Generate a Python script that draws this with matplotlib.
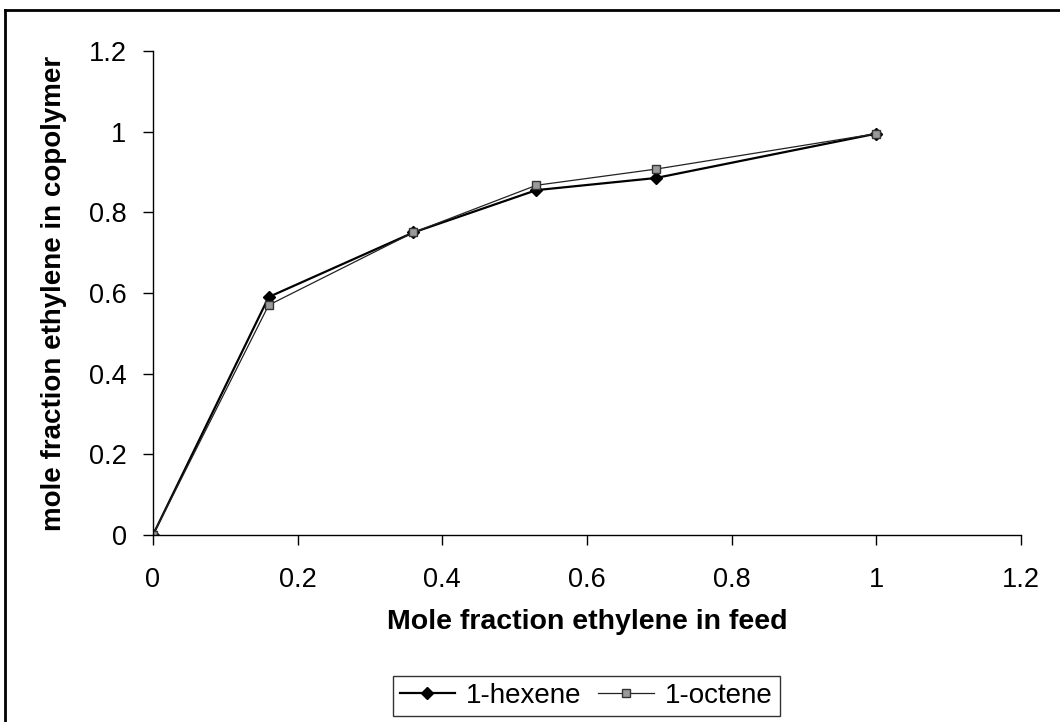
import numpy as np
import matplotlib
matplotlib.use("Agg")
import matplotlib.pyplot as plt
from matplotlib.lines import Line2D

#Data
feed = [0.0, 0.16, 0.36, 0.53, 0.695, 1.0]
hexene = [0.0, 0.59, 0.75, 0.855, 0.885, 0.995]
octene = [0.0, 0.57, 0.75, 0.867, 0.907, 0.995]
ticks = [0, 0.2, 0.4, 0.6, 0.8, 1, 1.2]
tick_labels = ["0", "0.2", "0.4", "0.6", "0.8", "1", "1.2"]

plt.rcParams["font.family"] = ["Liberation Sans", "DejaVu Sans"]

#Figure
fig = plt.figure(figsize=(10.6, 7.22), dpi=100)
ax = fig.add_axes([0.1443, 0.259, 0.8189, 0.6704])

ax.plot(feed, hexene, color="black", lw=1.6, marker="D", markersize=6,
        markerfacecolor="black", markeredgecolor="black", label="1-hexene")
ax.plot(feed, octene, color="#222222", lw=0.9, marker="s", markersize=6,
        markerfacecolor="#9a9a9a", markeredgecolor="#333333", label="1-octene")

ax.set_xlim(0, 1.2)
ax.set_ylim(0, 1.2)
ax.set_xticks(ticks)
ax.set_xticklabels(tick_labels)
ax.set_yticks(ticks)
ax.set_yticklabels(tick_labels)

for s in ["top", "right"]:
    ax.spines[s].set_visible(False)
for s in ["left", "bottom"]:
    ax.spines[s].set_linewidth(1.0)

ax.tick_params(axis="x", direction="out", length=7, width=1, labelsize=19.5, pad=16)
ax.tick_params(axis="y", direction="out", length=7, width=1, labelsize=19.5, pad=12)

ax.set_xlabel("Mole fraction ethylene in feed", fontsize=20.5, fontweight="bold")
ax.set_ylabel("mole fraction ethylene in copolymer", fontsize=20, fontweight="bold")
ax.xaxis.set_label_coords(0.5, -0.153)
ax.yaxis.set_label_coords(-0.099, 0.5)

#Legend
leg = fig.legend(loc="center", bbox_to_anchor=(0.553, 0.036), ncol=2,
                 fontsize=20, frameon=True, fancybox=False, edgecolor="black",
                 handlelength=2.0, handletextpad=0.4, columnspacing=0.6,
                 borderpad=0.25)
leg.get_frame().set_linewidth(1.0)

#Outer frame (left and top only)
fx = 5 / 1060
fy = 1 - 10 / 722
fig.add_artist(Line2D([fx, fx], [0, fy], transform=fig.transFigure, color="black", lw=2))
fig.add_artist(Line2D([fx, 1], [fy, fy], transform=fig.transFigure, color="black", lw=2))

fig.savefig("out.png", dpi=100)
